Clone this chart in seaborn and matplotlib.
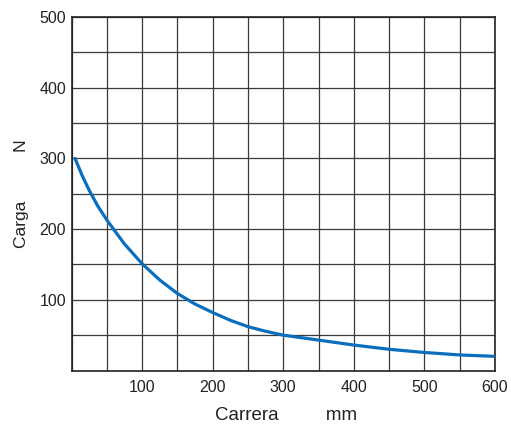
import matplotlib
matplotlib.use("Agg")
import matplotlib.pyplot as plt
import seaborn as sns
import pandas as pd

# Data
carrera_mm = [5, 15, 25, 37, 50, 75, 100, 125, 150, 175, 200, 225, 250, 275, 300, 350, 400, 450, 500, 550, 600]
carga_n = [300, 276, 255, 233, 213, 179, 151, 128, 109, 94, 82, 71, 62, 55.5, 50, 43, 36, 30, 25.5, 22, 20]

x_ticks = [0, 50, 100, 150, 200, 250, 300, 350, 400, 450, 500, 550, 600]
x_labels = ["", "", "100", "", "200", "", "300", "", "400", "", "500", "", "600"]
y_ticks = [0, 50, 100, 150, 200, 250, 300, 350, 400, 450, 500]
y_labels = ["", "", "100", "", "200", "", "300", "", "400", "", "500"]

x_title = "Carrera         mm"
y_title = "Carga          N"

sns.set_theme(style="white")
plt.rcParams["font.family"] = ["Liberation Sans", "DejaVu Sans"]

df = pd.DataFrame({"x": carrera_mm, "y": carga_n})

fig = plt.figure(figsize=(5.11, 4.25), dpi=100)
ax = fig.add_axes([71.5 / 511, (425 - 370.5) / 425, (495 - 71.5) / 511, (370.5 - 17) / 425])

sns.lineplot(data=df, x="x", y="y", ax=ax, color="#0a6ebd", linewidth=2.3, zorder=3)

ax.set_xlim(0, 600)
ax.set_ylim(0, 500)
ax.set_xticks(x_ticks)
ax.set_xticklabels(x_labels)
ax.set_yticks(y_ticks)
ax.set_yticklabels(y_labels)
ax.tick_params(axis="both", length=0, labelsize=11.5, colors="#222222")
ax.tick_params(axis="x", pad=7)
ax.tick_params(axis="y", pad=4)
ax.grid(True, color="#3a3a3a", linewidth=0.9)
for s in ax.spines.values():
    s.set_visible(True)
    s.set_color("#222222")
    s.set_linewidth(1.2)

ax.set_xlabel(x_title, fontsize=13.5, color="#222222")
ax.set_ylabel(y_title, fontsize=12.5, color="#222222")
ax.xaxis.set_label_coords(0.507, -0.103)
ax.yaxis.set_label_coords(-0.10, 0.50)

fig.savefig("out.png", dpi=100)
